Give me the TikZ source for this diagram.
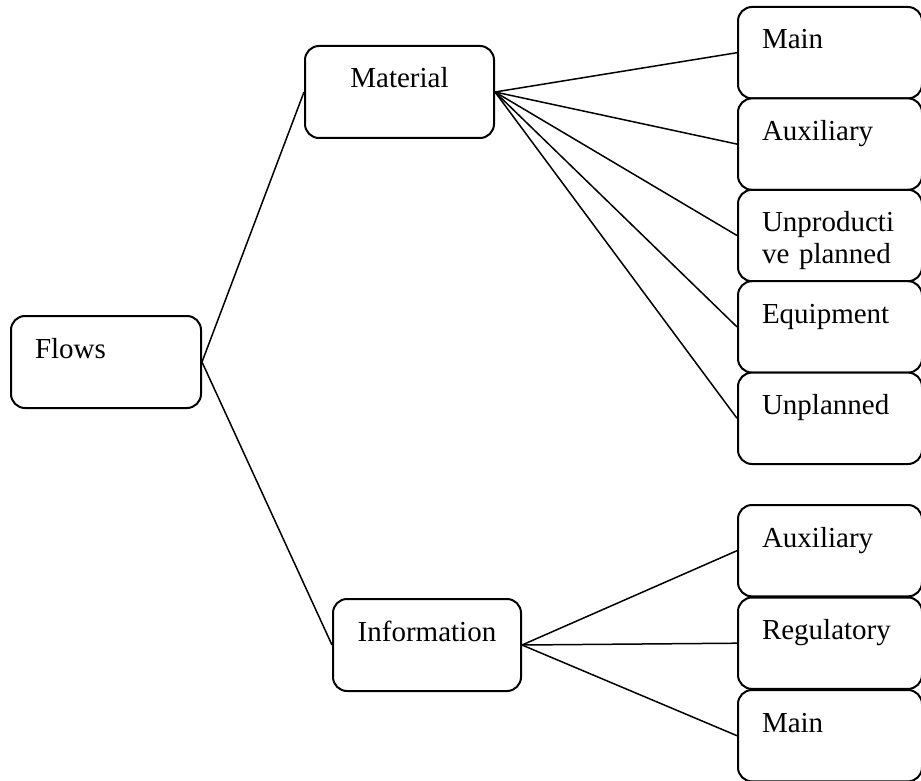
\documentclass[tikz,border=0pt]{standalone}
\usepackage{fontspec}
\setmainfont{Liberation Serif}

\begin{document}
\begin{tikzpicture}[x=0.5pt,y=-0.5pt,line width=0.75pt,
  box/.style={rectangle, draw=black, fill=white, rounded corners=7pt, line width=1pt, inner xsep=12pt, inner ysep=0pt, text height=21pt, text depth=25pt, anchor=north west},
  leftbox/.style={box, align=left, text width=#1},
  midbox/.style={box, align=center, text width=#1},
  sidebox/.style={leftbox=68pt, text depth=24.7pt}]
\fontsize{14.5}{16}\selectfont
\useasboundingbox (0,0) rectangle (921,781);

\node[leftbox=71pt] (flows) at (10,315){Flows};
\node[midbox=70.5pt] (material) at (304,45){Material};
\node[midbox=70pt] (info) at (332,598){Information};

% material flows
\node[sidebox] (mmain) at (737,6){Main};
\node[sidebox] (maux) at (737,97.4){Auxiliary};
\node[sidebox] (munprod) at (737,188.8){Unproducti\\ve planned};
\node[sidebox] (mequip) at (737,280.2){Equipment};
\node[sidebox] (munplan) at (737,371.6){Unplanned};

% information flows
\node[sidebox] (iaux) at (737,504){Auxiliary};
\node[sidebox] (ireg) at (737,596.5){Regulatory};
\node[sidebox] (imain) at (737,689){Main};

\draw (flows.east) to (material.west);
\draw (flows.east) to (info.west);
\draw (material.east) to (mmain.west);
\draw (material.east) to (maux.west);
\draw (material.east) to (munprod.west);
\draw (material.east) to (mequip.west);
\draw (material.east) to (munplan.west);
\draw (info.east) to (iaux.west);
\draw (info.east) to (ireg.west);
\draw (info.east) to (imain.west);

\end{tikzpicture}
\end{document}
